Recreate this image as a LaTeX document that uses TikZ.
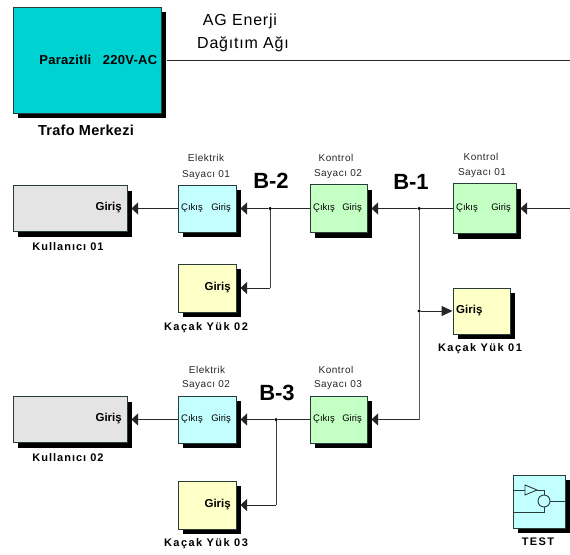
\documentclass[tikz,border=0pt]{standalone}
\usepackage{fontspec}
\setmainfont{Liberation Sans}
\usetikzlibrary{shadows,arrows.meta}
\definecolor{teal1}{RGB}{0,210,210}
\definecolor{gray1}{RGB}{228,228,228}
\definecolor{cyan1}{RGB}{196,255,255}
\definecolor{green1}{RGB}{196,255,196}
\definecolor{yell1}{RGB}{255,255,200}
\definecolor{edge1}{RGB}{40,60,60}
\newcommand{\spc}{\addfontfeatures{LetterSpace=9}}
\newcommand{\spw}{\addfontfeatures{LetterSpace=13}}
\newcommand{\spl}{\addfontfeatures{LetterSpace=5}}
\newcommand{\spn}{\addfontfeatures{LetterSpace=2}}
\tikzset{
  blk/.style={draw=edge1,line width=1pt,inner sep=3pt,
    drop shadow={shadow xshift=5pt,shadow yshift=-5pt,fill=black,opacity=1}},
  port/.style={font=\fontsize{9.5}{10}\selectfont,inner sep=0pt,anchor=mid},
  portb/.style={font=\fontsize{11.5}{12}\selectfont\bfseries,inner sep=0pt,anchor=mid},
  cap1/.style={font=\fontsize{11}{12}\selectfont\bfseries\spc,inner sep=0pt},
  cap2/.style={font=\fontsize{11}{12}\selectfont\bfseries\spw,inner sep=0pt},
  capsmall/.style={font=\fontsize{10}{11}\selectfont\spl,text=black!85,inner sep=0pt},
  bus/.style={font=\fontsize{22}{24}\selectfont\bfseries,inner sep=0pt},
  wire/.style={line width=1pt,draw=black!85},
  arr/.style={wire,-{Triangle[length=6.5pt,width=12pt]}},
  arrl/.style={wire,-{Triangle[length=11pt,width=10pt]}},
  dot1/.style={circle,fill=black,inner sep=0pt,minimum size=3.5pt},
  title1/.style={font=\fontsize{16}{17}\selectfont\spl,inner sep=0pt},
}
\begin{document}
\begin{tikzpicture}[x=1pt,y=-1pt]
\useasboundingbox (0,0) rectangle (570,554);
% boxes
\node[blk,fill=teal1,minimum width=148pt,minimum height=106pt] (trafo) at (87,60) {};
\node[blk,fill=gray1,minimum width=114pt,minimum height=46pt] (k1) at (70,208.5) {};
\node[blk,fill=gray1,minimum width=114pt,minimum height=46pt] (k2) at (70,419.5) {};
\node[blk,fill=cyan1,minimum width=58pt,minimum height=47pt] (e1) at (207,208.5) {};
\node[blk,fill=cyan1,minimum width=58pt,minimum height=47pt] (e2) at (207,419.5) {};
\node[blk,fill=green1,minimum width=57pt,minimum height=48pt] (c2) at (338.5,208.5) {};
\node[blk,fill=green1,minimum width=63pt,minimum height=50pt] (c1) at (484.5,208.5) {};
\node[blk,fill=green1,minimum width=57pt,minimum height=47pt] (c3) at (338.5,419.5) {};
\node[blk,fill=yell1,minimum width=58pt,minimum height=48pt] (y2) at (207,288) {};
\node[blk,fill=yell1,minimum width=58pt,minimum height=48pt] (y3) at (207,505) {};
\node[blk,fill=yell1,minimum width=57pt,minimum height=46pt] (y1) at (481.5,311) {};
\node[blk,fill=cyan1,minimum width=52.5pt,minimum height=53pt] (test) at (539.5,501.5) {};
% box texts
\node[font=\fontsize{13}{14}\selectfont\bfseries\spn,inner sep=0pt,anchor=east] (t0) at (157.5,60) {Parazitli\hspace{0.9em}220V-AC};
\node[portb,anchor=east] (t1) at (122,208) {Giriş};
\node[portb,anchor=east] (t2) at (122,419) {Giriş};
\node[port,anchor=west] (t3) at (181,208) {Çıkış};
\node[port,anchor=east] (t4) at (231,208) {Giriş};
\node[port,anchor=west] (t5) at (181,419) {Çıkış};
\node[port,anchor=east] (t6) at (231,419) {Giriş};
\node[port,anchor=west] (t7) at (313,208) {Çıkış};
\node[port,anchor=east] (t8) at (362,208) {Giriş};
\node[port,anchor=west] (t9) at (313,419) {Çıkış};
\node[port,anchor=east] (t10) at (362,419) {Giriş};
\node[port,anchor=west] (t11) at (456,208) {Çıkış};
\node[port,anchor=east] (t12) at (511,208) {Giriş};
\node[portb,anchor=east] (t13) at (231,288) {Giriş};
\node[portb,anchor=east] (t14) at (231,505) {Giriş};
\node[portb,anchor=west] (t15) at (456,311) {Giriş};
% captions
\node[font=\fontsize{14.5}{15}\selectfont\bfseries\spn,inner sep=0pt] (l0) at (86,130) {Trafo Merkezi};
\node[cap1] (l1) at (68,247) {Kullanıcı 01};
\node[cap1] (l2) at (68,458) {Kullanıcı 02};
\node[cap2] (l3) at (206,328) {Kaçak Yük 02};
\node[cap2] (l4) at (480,349) {Kaçak Yük 01};
\node[cap2] (l5) at (206,544) {Kaçak Yük 03};
\node[cap2] (l6) at (538,542) {TEST};
\node[capsmall] (s1) at (206,158) {Elektrik};
\node[capsmall] (s2) at (206,175) {Sayacı 01};
\node[capsmall] (s3) at (336,158) {Kontrol};
\node[capsmall] (s4) at (338,174) {Sayacı 02};
\node[capsmall] (s5) at (481,157) {Kontrol};
\node[capsmall] (s6) at (482,173) {Sayacı 01};
\node[capsmall] (s7) at (207,370) {Elektrik};
\node[capsmall] (s8) at (206,385) {Sayacı 02};
\node[capsmall] (s9) at (336,370) {Kontrol};
\node[capsmall] (s10) at (338,385) {Sayacı 03};
\node[bus] (b2) at (271,181) {B-2};
\node[bus] (b1) at (411,182) {B-1};
\node[bus] (b3) at (277,393) {B-3};
\node[title1] (ag1) at (240,21) {AG Enerji};
\node[title1] (ag2) at (243,44) {Dağıtım Ağı};
% junctions and free ends
\node[dot1] (j2) at (270,208.5) {};
\node[dot1] (j1) at (419,208.5) {};
\node[dot1] (j1b) at (419,311) {};
\node[dot1] (j3) at (276,419.5) {};
\coordinate (top) at (570,60);
\coordinate (in1) at (570,208.5);
\coordinate (bend1) at (419,419.5);
\coordinate (bend2) at (270,288);
\coordinate (bend3) at (276,505);
% wires
\draw[wire] ([xshift=5pt]trafo.east) -- (top);
\draw[arr] (in1) -- ([xshift=4pt]c1.east);
\draw[wire] (c1.west) -- (j1);
\draw[arr] (j1) -- ([xshift=4pt]c2.east);
\draw[wire,draw=black!65] (j1) -- (j1b) -- (bend1);
\draw[arr] (bend1) -- ([xshift=4pt]c3.east);
\draw[arrl] (j1b) -- (y1.west);
\draw[wire] (c2.west) -- (j2);
\draw[arr] (j2) -- ([xshift=4pt]e1.east);
\draw[wire,draw=black!75] (j2) -- (bend2);
\draw[arr] (bend2) -- ([xshift=4pt]y2.east);
\draw[arr] (e1.west) -- ([xshift=4pt]k1.east);
\draw[wire] (c3.west) -- (j3);
\draw[arr] (j3) -- ([xshift=4pt]e2.east);
\draw[wire,draw=black!75] (j3) -- (bend3);
\draw[arr] (bend3) -- ([xshift=4pt]y3.east);
\draw[arr] (e2.west) -- ([xshift=4pt]k2.east);
% TEST icon
\begin{scope}[line width=0.9pt,draw=edge1]
\node[circle,draw=edge1,line width=0.9pt,minimum size=12pt,inner sep=0pt] (ic) at (544,501) {};
\coordinate (tA) at (525,485);
\coordinate (tB) at (525,495);
\coordinate (tC) at (537,490);
\draw (tA) -- (tB) -- (tC) -- cycle;
\draw (test.west |- tC) -- (tA |- tC);
\draw (tC) -- (ic.north |- tC) -- (ic.north);
\draw (test.west |- 0,512) -- (ic.south |- 0,512) -- (ic.south);
\draw (ic.east) -- (test.east |- ic.east);
\end{scope}
\end{tikzpicture}
\end{document}
